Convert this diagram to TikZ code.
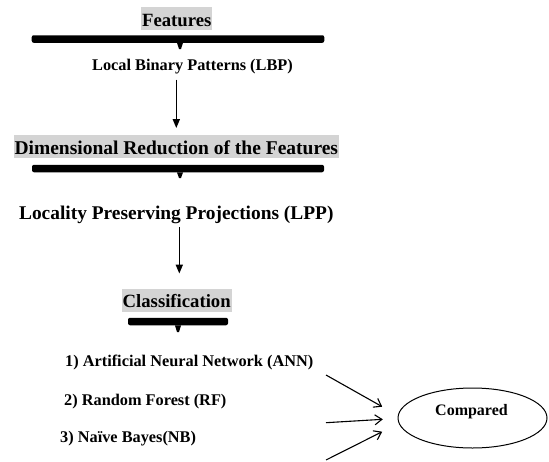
\documentclass[tikz,border=0pt]{standalone}
\usepackage{fontspec}
\setmainfont{Liberation Serif}
\usetikzlibrary{arrows.meta,shapes.geometric}

\tikzset{
	heading/.style={fill=black!17, anchor=base, inner xsep=0.8pt, inner ysep=0.4pt, text height=18.6pt, text depth=3.9pt, font=\fontsize{18.7}{22}\selectfont\bfseries},
	plaintext/.style={anchor=base, inner sep=0pt, font=\fontsize{16.3}{19}\selectfont\bfseries},
	bar/.style={fill=black, inner sep=0pt, minimum height=7.5pt, rounded corners=2pt},
	varrow/.style={line width=1.6pt, -{Triangle[length=9pt,width=7pt]}},
	darrow/.style={line width=1.1pt, -{Straight Barb[length=7pt,width=10pt]}},
	cmpbox/.style={draw, ellipse, line width=1pt, minimum width=149pt, minimum height=60pt, inner sep=0pt}
}
% small tapered tip under a bar: #1 = bar node, #2 = end coordinate
\def\barstub#1#2{\fill (#1.south -| #2) +(-3,0) -- +(3,0) -- ([xshift=1pt]#2) -- ([xshift=-1pt]#2) -- cycle;}

\begin{document}
\begin{tikzpicture}[x=1pt, y=-1pt]
	%%%%% START %%%%%
	\useasboundingbox (0,0) rectangle (549,461);

	\node[heading] (feat) at (176.7,26) {Features};
	\node[bar, minimum width=292.6pt] (bar1) at (178,39) {};
	\coordinate (stub1) at (180,49);
	\barstub{bar1}{stub1}

	\node[plaintext] (lbp) at (192.5,70) {Local Binary Patterns (LBP)};

	\node[heading, font=\fontsize{19.5}{22}\selectfont\bfseries] (dimred) at (176.3,154) {Dimensional Reduction of the Features};
	\node[bar, minimum width=292pt] (bar2) at (178,168.5) {};
	\coordinate (stub2) at (180,178);
	\barstub{bar2}{stub2}

	\node[plaintext, font=\fontsize{19.4}{22}\selectfont\bfseries] (lpp) at (176.3,219) {Locality Preserving Projections (LPP)};

	\node[heading] (cls) at (176.7,307.5) {Classification};
	\node[bar, minimum width=100pt] (bar3) at (178,321.5) {};
	\coordinate (stub3) at (178,332);
	\barstub{bar3}{stub3}

	\node[plaintext, anchor=base west] (ann) at (65,366.5) {1) Artificial Neural Network (ANN)};
	\node[plaintext, anchor=base west] (rf) at (64,405) {2) Random Forest (RF)};
	\node[plaintext, anchor=base west] (nb) at (60,442.7) {3) Naïve Bayes(NB)};

	\node[cmpbox] (cmp) at (472.5,418) {};
	\node[plaintext, font=\fontsize{16}{19}\selectfont\bfseries] (cmptxt) at (471.5,415) {Compared};

	% arrows
	\draw[varrow, shorten <=5.8pt, shorten >=6.7pt] (lbp.south -| dimred.north) -- (dimred.north);
	\coordinate (lppx) at ([xshift=3pt]lpp.south);
	\draw[varrow, shorten <=3.5pt, shorten >=14.7pt] (lppx) -- (lppx |- cls.north);

	\coordinate (s1) at (326,375);
	\coordinate (s2) at (326,422.7);
	\coordinate (s3) at (326,460);
	\draw[darrow] (s1) -- ([xshift=-15.3pt,yshift=11.3pt]cmp.west);
	\draw[darrow] (s2) -- ([xshift=-14.7pt,yshift=-1.3pt]cmp.west);
	\draw[darrow] (s3) -- ([xshift=-15.3pt,yshift=-13.7pt]cmp.west);

	%%%%% END %%%%%
\end{tikzpicture}
\end{document}
